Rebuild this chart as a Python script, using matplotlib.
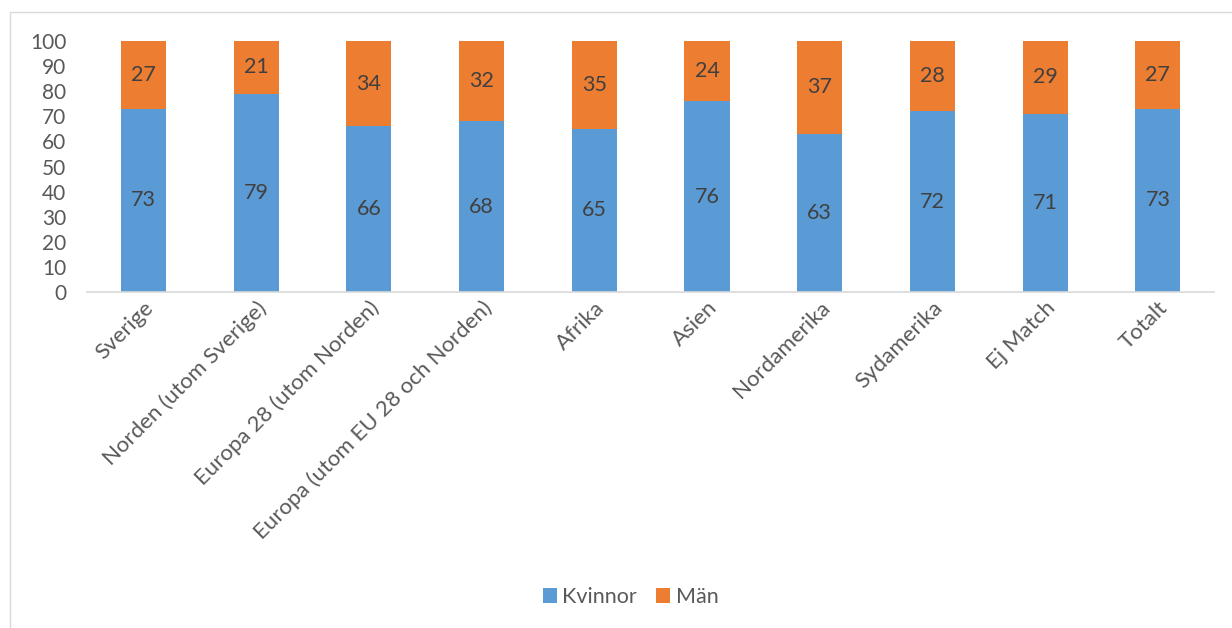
import numpy as np
import matplotlib.pyplot as plt
from matplotlib.patches import Rectangle

regioner = ['Sverige', 'Norden (utom Sverige)', 'Europa 28 (utom Norden)',
            'Europa (utom EU 28 och Norden)', 'Afrika', 'Asien', 'Nordamerika',
            'Sydamerika', 'Ej Match', 'Totalt']
kvinnor = [73, 79, 66, 68, 65, 76, 63, 72, 71, 73]
man = [27, 21, 34, 32, 35, 24, 37, 28, 29, 27]

blue = '#5B9BD5'
orange = '#ED7D31'

plt.rcParams['font.family'] = ['Lato', 'DejaVu Sans']

fig = plt.figure(figsize=(12.32, 6.28), dpi=100, facecolor='w')
ax = fig.add_axes([0.0706, 0.535, 0.915, 0.3997])

x = np.arange(len(regioner))
b1 = ax.bar(x, kvinnor, width=0.4, color=blue, label='Kvinnor')
b2 = ax.bar(x, man, width=0.4, bottom=kvinnor, color=orange, label='Män')
ax.bar_label(b1, label_type='center', fontsize=15.5, color='#404040')
ax.bar_label(b2, label_type='center', fontsize=15.5, color='#404040')

ax.set_xlim(-0.5, len(regioner) - 0.5)
ax.set_ylim(0, 100)
ax.set_yticks(range(0, 101, 10))
ax.set_xticks(x)
ax.set_xticklabels(regioner, rotation=45, ha='right', rotation_mode='anchor')
ax.tick_params(axis='both', length=0, labelcolor='#595959')
ax.tick_params(axis='y', pad=15, labelsize=15)
ax.tick_params(axis='x', pad=4, labelsize=16)
for s in ['top', 'right', 'left']:
    ax.spines[s].set_visible(False)
ax.spines['bottom'].set_color('#D9D9D9')
ax.spines['bottom'].set_linewidth(1.2)

fig.legend(loc='center', bbox_to_anchor=(0.512, 0.049), ncol=2, frameon=False,
           fontsize=15.5, labelcolor='#595959', handlelength=0.65, handleheight=0.65,
           handletextpad=0.25, columnspacing=0.9)

# ram runt diagrammet
fig.patches.append(Rectangle((10 / 1232, -0.05), 1.1, 1.05 - 12 / 628,
                             transform=fig.transFigure, fill=False,
                             edgecolor='#D9D9D9', linewidth=1))

fig.savefig('out.png', dpi=100)
